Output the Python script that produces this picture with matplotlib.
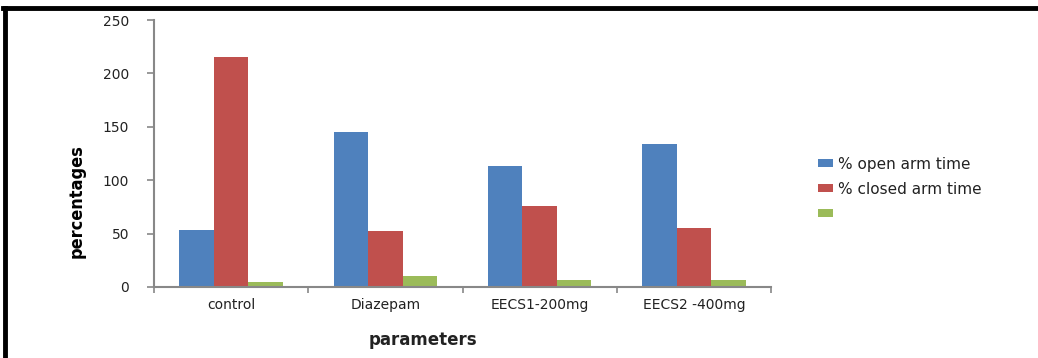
import numpy as np
import matplotlib
matplotlib.use('Agg')
import matplotlib.pyplot as plt
from matplotlib.lines import Line2D

categories = ['control', 'Diazepam', 'EECS1-200mg', 'EECS2 -400mg']
open_arm = [53, 145, 113, 134]
closed_arm = [215, 52, 76, 55]
third = [5, 10, 7, 7]
series_names = ['% open arm time', '% closed arm time', '']
colors = ['#4F81BD', '#C0504D', '#9BBB59']

fig = plt.figure(figsize=(10.38, 3.58), dpi=100)
ax = fig.add_axes([154/1038, 71/358, 617/1038, 267/358])

x = np.arange(len(categories))
w = 0.224
bars = []
for i, vals in enumerate([open_arm, closed_arm, third]):
    b = ax.bar(x + (i - 1) * w, vals, w, color=colors[i])
    bars.append(b)

ax.set_xlim(-0.5, len(categories) - 0.5)
ax.set_ylim(0, 250)
ax.set_yticks([0, 50, 100, 150, 200, 250])
ax.set_xticks(x)
ax.set_xticklabels(categories)
ax.tick_params(axis='x', length=0, pad=8, labelsize=10, labelcolor='#222222')
ax.tick_params(axis='y', length=5, color='#888888', width=1.2, pad=13, labelsize=10, labelcolor='#222222')
# ticks between categories
ax.set_xticks(np.arange(-0.5, len(categories)), minor=True)
ax.tick_params(axis='x', which='minor', length=4.5, color='#888888', width=1.2)
for s in ['top', 'right']:
    ax.spines[s].set_visible(False)
for s in ['left', 'bottom']:
    ax.spines[s].set_color('#888888')
    ax.spines[s].set_linewidth(1.5)

fig.text(77/1038, 157/358, 'percentages', rotation=90, ha='center', va='center',
         fontsize=13, fontweight='bold', fontstretch='condensed',
         family=['DejaVu Sans'])
fig.text(423/1038, 18/358, 'parameters', ha='center', va='center',
         fontsize=12, fontweight='bold', color='#222222')

ax.legend([b[0] for b in bars], series_names, loc='center left',
          bbox_to_anchor=(810/1038, 169/358), bbox_transform=fig.transFigure,
          frameon=False, fontsize=11, borderpad=0, handlelength=1.0, handleheight=0.5,
          handletextpad=0.35, labelspacing=0.65, labelcolor='#222222')

# black frame around the picture
fig.add_artist(Line2D([5/1038, 5/1038], [0, 350/358], color='black', lw=3.5, transform=fig.transFigure))
fig.add_artist(Line2D([3/1038, 1], [350/358, 350/358], color='black', lw=3.5, transform=fig.transFigure))

fig.savefig('out.png', dpi=100)
